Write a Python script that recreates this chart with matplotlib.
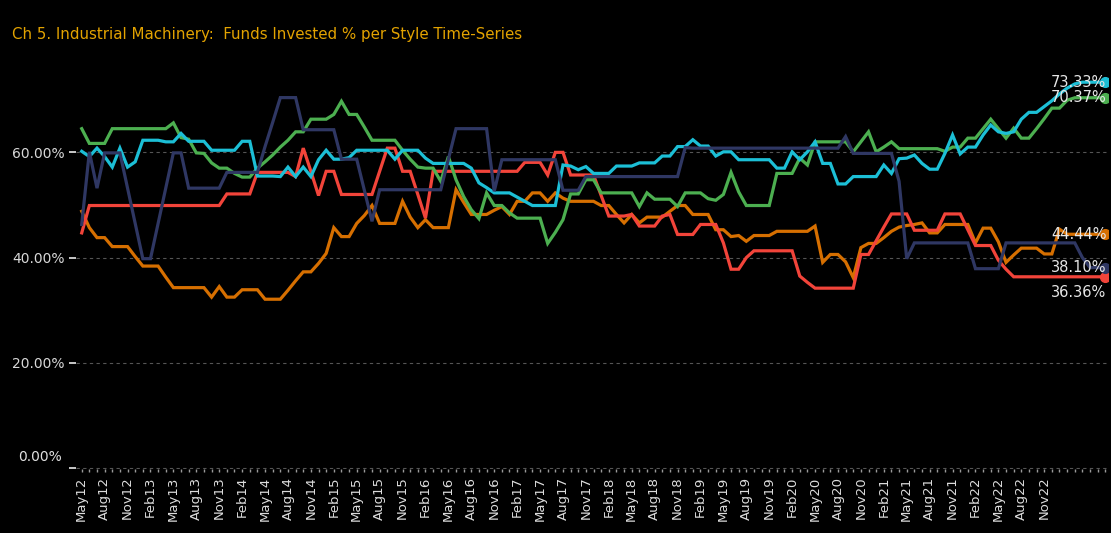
import matplotlib
matplotlib.use("Agg")
from matplotlib import pyplot as plt
import pandas as pd

# monthly, May 2012 onwards
months = pd.date_range("2012-05-01", periods=135, freq="MS")
month_labels = [d.strftime("%b%y") for d in months]

cyan_vals = [60.2, 59.2, 60.8, 59.2, 57.2, 60.8, 57.2, 58.2, 62.3, 62.3,
             62.3, 62.0, 62.0, 63.6, 62.1, 62.1, 62.1, 60.4, 60.4, 60.4,
             60.4, 62.1, 62.1, 55.5, 55.5, 55.5, 55.4, 57.2, 55.4, 57.2,
             55.4, 58.6, 60.4, 58.7, 58.7, 59.0, 60.4, 60.4, 60.4, 60.4,
             60.4, 58.7, 60.4, 60.4, 60.4, 58.9, 57.9, 57.9, 57.9, 57.9,
             57.9, 57.0, 54.2, 53.3, 52.3, 52.3, 52.3, 51.5, 50.7, 49.9,
             49.9, 49.9, 49.9, 57.6, 57.4, 56.7, 57.3, 56.0, 56.0, 56.0,
             57.4, 57.4, 57.4, 58.0, 58.0, 58.0, 59.3, 59.3, 61.1, 61.1,
             62.4, 61.2, 61.2, 59.3, 60.1, 60.1, 58.6, 58.6, 58.6, 58.6,
             58.6, 57.0, 57.0, 60.1, 58.6, 60.1, 62.0, 57.9, 57.9, 54.0,
             54.0, 55.4, 55.4, 55.4, 55.4, 57.6, 56.0, 58.8, 58.9, 59.5,
             57.9, 56.8, 56.8, 59.8, 63.3, 59.7, 61.0, 61.0, 63.3, 65.2,
             63.9, 63.6, 63.9, 66.3, 67.6, 67.6, 68.7, 69.8, 71.1, 72.2,
             73.0, 73.33, 73.33, 73.33, 73.33]

green_vals = [64.5, 61.7, 61.7, 61.7, 64.5, 64.5, 64.5, 64.5, 64.5, 64.5,
              64.5, 64.5, 65.6, 62.8, 62.5, 59.9, 59.8, 58.0, 57.0, 57.0,
              56.0, 55.3, 55.3, 57.0, 58.2, 59.5, 61.0, 62.3, 63.9, 63.9,
              66.3, 66.3, 66.3, 67.2, 69.7, 67.2, 67.2, 64.8, 62.3, 62.3,
              62.3, 62.3, 60.4, 58.7, 57.2, 57.0, 57.0, 54.5, 59.2, 54.8,
              51.6, 49.1, 47.4, 52.3, 49.9, 49.9, 48.5, 47.5, 47.5, 47.5,
              47.5, 42.7, 44.8, 47.2, 52.1, 52.1, 54.8, 54.8, 52.3, 52.3,
              52.3, 52.3, 52.3, 49.7, 52.3, 51.1, 51.1, 51.1, 49.7, 52.3,
              52.3, 52.3, 51.2, 50.9, 52.0, 56.2, 52.5, 49.9, 49.9, 49.9,
              49.9, 56.0, 56.0, 56.0, 58.9, 57.6, 62.0, 62.0, 62.0, 62.0,
              62.0, 60.1, 62.0, 63.9, 60.1, 61.0, 62.0, 60.7, 60.7, 60.7,
              60.7, 60.7, 60.7, 60.2, 61.0, 61.0, 62.7, 62.7, 64.5, 66.3,
              64.5, 62.7, 64.6, 62.7, 62.7, 64.5, 66.4, 68.4, 68.4, 69.9,
              70.37, 70.37, 70.37, 70.37, 70.37]

navy_vals = [46.3, 60.1, 53.2, 59.9, 59.9, 59.9, 53.2, 46.5, 39.8, 39.8,
             46.5, 53.2, 59.9, 59.9, 53.2, 53.2, 53.2, 53.2, 53.2, 56.2,
             56.2, 56.2, 56.2, 56.2, 61.1, 65.7, 70.4, 70.4, 70.4, 64.3,
             64.3, 64.3, 64.3, 64.3, 58.7, 58.7, 58.7, 52.8, 46.9, 52.9,
             52.9, 52.9, 52.9, 52.9, 52.9, 52.9, 52.9, 52.9, 58.7, 64.5,
             64.5, 64.5, 64.5, 64.5, 52.6, 58.6, 58.6, 58.6, 58.6, 58.6,
             58.6, 58.6, 58.6, 52.8, 52.8, 52.8, 55.4, 55.4, 55.4, 55.4,
             55.4, 55.4, 55.4, 55.4, 55.4, 55.4, 55.4, 55.4, 55.4, 60.9,
             60.8, 60.8, 60.8, 60.8, 60.8, 60.8, 60.8, 60.8, 60.8, 60.8,
             60.8, 60.8, 60.8, 60.8, 60.8, 60.8, 60.8, 60.8, 60.8, 60.8,
             63.0, 59.8, 59.8, 59.8, 59.8, 59.8, 59.8, 54.5, 39.8, 42.8,
             42.8, 42.8, 42.8, 42.8, 42.8, 42.8, 42.8, 37.9, 37.9, 37.9,
             37.9, 42.8, 42.8, 42.8, 42.8, 42.8, 42.8, 42.8, 42.8, 42.8,
             42.8, 40.0, 38.1, 38.1, 38.1]

red_vals = [44.7, 49.9, 49.9, 49.9, 49.9, 49.9, 49.9, 49.9, 49.9, 49.9,
            49.9, 49.9, 49.9, 49.9, 49.9, 49.9, 49.9, 49.9, 49.9, 52.1,
            52.1, 52.1, 52.1, 56.2, 56.2, 56.2, 56.2, 56.2, 55.4, 60.8,
            56.4, 51.8, 56.4, 56.4, 52.0, 52.0, 52.0, 52.0, 52.0, 56.4,
            60.8, 60.8, 56.4, 56.4, 52.0, 47.5, 56.4, 56.4, 56.4, 56.4,
            56.4, 56.4, 56.4, 56.4, 56.4, 56.4, 56.4, 56.4, 58.1, 58.1,
            58.1, 55.7, 60.0, 60.0, 55.7, 55.7, 55.7, 55.7, 51.8, 47.9,
            47.9, 47.9, 48.2, 46.0, 46.0, 46.0, 47.9, 48.2, 44.4, 44.4,
            44.4, 46.3, 46.3, 46.3, 42.8, 37.8, 37.8, 40.0, 41.3, 41.3,
            41.3, 41.3, 41.3, 41.3, 36.5, 35.3, 34.2, 34.2, 34.2, 34.2,
            34.2, 34.2, 40.6, 40.6, 43.2, 45.8, 48.3, 48.3, 48.3, 45.2,
            45.2, 45.2, 45.2, 48.3, 48.3, 48.3, 45.3, 42.3, 42.3, 42.3,
            39.5, 37.8, 36.36, 36.36, 36.36, 36.36, 36.36, 36.36, 36.36, 36.36,
            36.36, 36.36, 36.36, 36.36, 36.36]

orange_vals = [48.8, 45.7, 43.8, 43.8, 42.1, 42.1, 42.1, 40.2, 38.4, 38.4,
               38.4, 36.3, 34.3, 34.3, 34.3, 34.3, 34.3, 32.5, 34.5, 32.5,
               32.5, 33.9, 33.9, 33.9, 32.1, 32.1, 32.1, 33.8, 35.6, 37.3,
               37.3, 38.9, 40.8, 45.7, 44.0, 44.0, 46.5, 48.0, 49.9, 46.5,
               46.5, 46.5, 50.7, 47.7, 45.7, 47.2, 45.7, 45.7, 45.7, 52.9,
               50.5, 48.2, 48.2, 48.2, 49.0, 49.7, 48.2, 50.7, 50.7, 52.3,
               52.3, 50.7, 52.3, 51.3, 50.7, 50.7, 50.7, 50.7, 49.9, 49.9,
               48.2, 46.6, 48.2, 46.6, 47.7, 47.7, 47.7, 48.8, 49.9, 49.9,
               48.2, 48.2, 48.2, 45.3, 45.3, 44.0, 44.2, 43.1, 44.2, 44.2,
               44.2, 45.0, 45.0, 45.0, 45.0, 45.0, 46.0, 39.1, 40.6, 40.6,
               39.2, 36.2, 41.9, 42.7, 42.7, 43.8, 45.0, 45.8, 46.1, 46.3,
               46.6, 44.7, 44.7, 46.3, 46.3, 46.3, 46.3, 42.8, 45.6, 45.6,
               43.0, 39.1, 40.5, 41.8, 41.8, 41.8, 40.7, 40.7, 45.4, 44.44,
               44.44, 44.44, 44.44, 44.44, 44.44]

series = [
    (orange_vals, "#d66f00"),
    (red_vals, "#f2443a"),
    (green_vals, "#4caf50"),
    (cyan_vals, "#1cbfd6"),
    (navy_vals, "#2f3763"),
]

end_labels = ["44.44%", "36.36%", "70.37%", "73.33%", "38.10%"]
label_shift = [0, -16, 0, 0, 0]  # pixels, 36.36 sits below its point

fig = plt.figure(figsize=(11.11, 5.33), dpi=100, facecolor="black")
ax = fig.add_axes([0.0684, 0.1201, 0.9289, 0.7422], facecolor="black")

x = list(range(len(months)))
for (vals, col), lab, dy in zip(series, end_labels, label_shift):
    assert len(vals) == len(x)
    ax.plot(x, vals, color=col, lw=2.3, solid_joinstyle="miter", zorder=3)
    ax.plot(x[-1], vals[-1], "o", color=col, ms=7, zorder=4)
    ax.annotate(lab, (x[-1], vals[-1]), xytext=(1, dy), textcoords="offset pixels",
                ha="right", va="center", color="#e6e6e6", fontsize=10.5, zorder=5)

ax.set_xlim(-0.75, 134.35)
ax.set_ylim(-0.15, 75)

ax.set_yticks([0, 20, 40, 60])
ax.set_yticklabels(["", "20.00%", "40.00%", "60.00%"])
ax.text(-0.0135, 2.1, "0.00%", transform=ax.get_yaxis_transform(), ha="right",
        va="center", color="#e0e0e0", fontsize=10)
ax.tick_params(axis="y", colors="#d8d8d8", labelsize=10, length=5, width=1.3, pad=3)
ax.grid(axis="y", color="#555555", lw=0.8, ls=(0, (3, 3)))

tick_idx = list(range(0, 127, 3))
ax.set_xticks(tick_idx)
ax.set_xticklabels([month_labels[i] for i in tick_idx], rotation=90)
ax.set_xticks(x, minor=True)
ax.tick_params(axis="x", which="both", colors="#9a9a9a", length=2.5, width=1)
ax.tick_params(axis="x", which="major", labelcolor="#dddddd", labelsize=9.5, pad=3)

for s in ax.spines.values():
    s.set_visible(False)

fig.text(0.011, 1 - 35 / 533, "Ch 5. Industrial Machinery:  Funds Invested % per Style Time-Series",
         color="#e3a300", fontsize=10.8, va="center", ha="left")

fig.savefig("out.png", dpi=100, facecolor="black")
